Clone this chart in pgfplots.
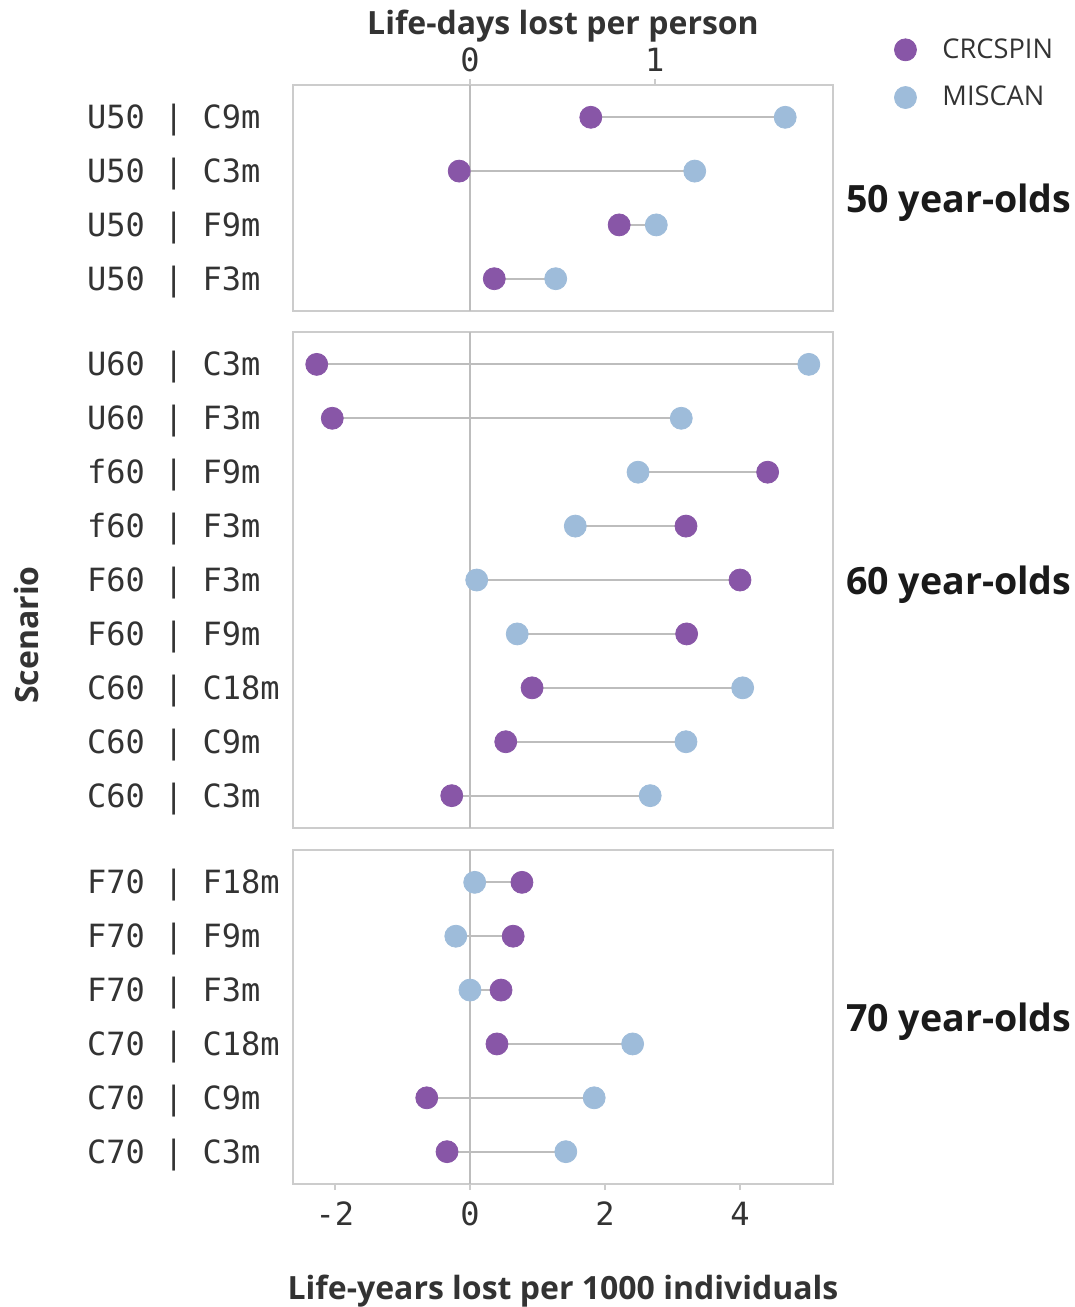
\documentclass[border=0pt]{standalone}
\usepackage{fontspec}
\setmainfont{Open Sans}
\setmonofont{DejaVu Sans Mono}
\usepackage{pgfplots}
\usepackage{pgfplotstable}
\pgfplotsset{compat=1.18}
\definecolor{crc}{HTML}{8856A7}
\definecolor{mis}{HTML}{9EBCDA}
\definecolor{frm}{HTML}{CCCCCC}
\definecolor{seg}{HTML}{BDBDBD}
\definecolor{txt}{HTML}{333333}
\definecolor{dark}{HTML}{1A1A1A}

\pgfplotstableread{
y c m
0 1.79 4.67
1 -0.16 3.33
2 2.21 2.76
3 0.36 1.27
}\tabA
\pgfplotstableread{
y c m
0 -2.27 5.02
1 -2.04 3.13
2 4.41 2.49
3 3.20 1.56
4 4.00 0.10
5 3.21 0.70
6 0.92 4.04
7 0.53 3.20
8 -0.27 2.67
}\tabB
\pgfplotstableread{
y c m
0 0.77 0.07
1 0.64 -0.21
2 0.46 0.00
3 0.40 2.41
4 -0.64 1.84
5 -0.34 1.42
}\tabC

\pgfplotsset{panel/.style={
  scale only axis, width=270pt,
  xmin=-2.622, xmax=5.378, y dir=reverse, clip=false,
  axis line style={frm, line width=1pt},
  tick style={frm, line width=1pt}, tick align=outside, major tick length=3pt,
  ytick style={draw=none},
  yticklabel style={font=\ttfamily\fontsize{16}{16}\selectfont, text=txt, anchor=west, xshift=-103.5pt, yshift=-1.5pt},
  xticklabel style={font=\ttfamily\fontsize{16}{16}\selectfont, text=txt},
}}
\newcommand{\panelplots}[2]{%
  \addplot[seg, line width=1pt, forget plot] coordinates {(0,-0.6) (0,#2)};
  \addplot[forget plot, draw=none, no markers,
    error bars/.cd, x dir=both, x explicit, error mark=none,
    error bar style={draw=seg, line width=1pt}]
    table[x expr={(\thisrow{c}+\thisrow{m})/2}, y=y,
          x error expr={abs(\thisrow{m}-\thisrow{c})/2}] {#1};
  \addplot[crc, only marks, mark=*, mark size=5.5pt] table[x=c, y=y] {#1};
  \addplot[mis, only marks, mark=*, mark size=5.5pt] table[x=m, y=y] {#1};
}
\tikzset{grp/.style={anchor=west, font=\bfseries\fontsize{18.8}{18.8}\selectfont, text=dark, xshift=3pt, yshift=-2.3pt}}

\begin{document}
\begin{tikzpicture}
\useasboundingbox (-146.5pt,-611pt) rectangle (391pt,42.5pt);

\begin{axis}[panel, at={(0,0)}, anchor=north west, height=113pt,
  ymin=-0.6, ymax=3.6, ytick={0,1,2,3},
  yticklabels={U50 | C9m, U50 | C3m, U50 | F9m, U50 | F3m},
  xtick={0,2.7379}, xticklabels={0,1}, xtick pos=upper, xticklabel pos=upper,
  legend style={at={(1.102,1.243)}, anchor=north west, draw=none, fill=none,
    font=\fontsize{13.6}{13.6}\selectfont, text=txt, row sep=8.5pt,
    /tikz/every odd column/.append style={column sep=11pt}},
  legend cell align=left]
  \panelplots{\tabA}{3.6}
  \legend{CRCSPIN, MISCAN}
  \node[grp] at (rel axis cs:1,0.5) {50 year-olds};
\end{axis}

\begin{axis}[panel, at={(0,-123.5pt)}, anchor=north west, height=248pt,
  ymin=-0.6, ymax=8.6, ytick={0,...,8},
  yticklabels={U60 | C3m, U60 | F3m, f60 | F9m, f60 | F3m, F60 | F3m, F60 | F9m, C60 | C18m, C60 | C9m, C60 | C3m},
  xtick=\empty]
  \panelplots{\tabB}{8.6}
  \node[grp] at (rel axis cs:1,0.5) {60 year-olds};
\end{axis}

\begin{axis}[panel, at={(0,-382.5pt)}, anchor=north west, height=167pt,
  ymin=-0.6, ymax=5.6, ytick={0,...,5},
  yticklabels={F70 | F18m, F70 | F9m, F70 | F3m, C70 | C18m, C70 | C9m, C70 | C3m},
  xtick={-2,0,2,4}, xticklabels={-2,0,2,4}, xtick pos=lower, xticklabel pos=lower,
  xticklabel style={yshift=-2.5pt}]
  \panelplots{\tabC}{5.6}
  \node[grp] at (rel axis cs:1,0.5) {70 year-olds};
\end{axis}

\node[font=\bfseries\fontsize{16}{16}\selectfont, text=txt, rotate=90] at (-133pt,-275pt) {Scenario};
\node[font=\bfseries\fontsize{16}{16}\selectfont, text=txt] at (135pt,29.5pt) {Life-days lost per person};
\node[font=\bfseries\fontsize{16}{16}\selectfont, text=txt] at (135pt,-603pt) {Life-years lost per 1000 individuals};
\end{tikzpicture}
\end{document}
